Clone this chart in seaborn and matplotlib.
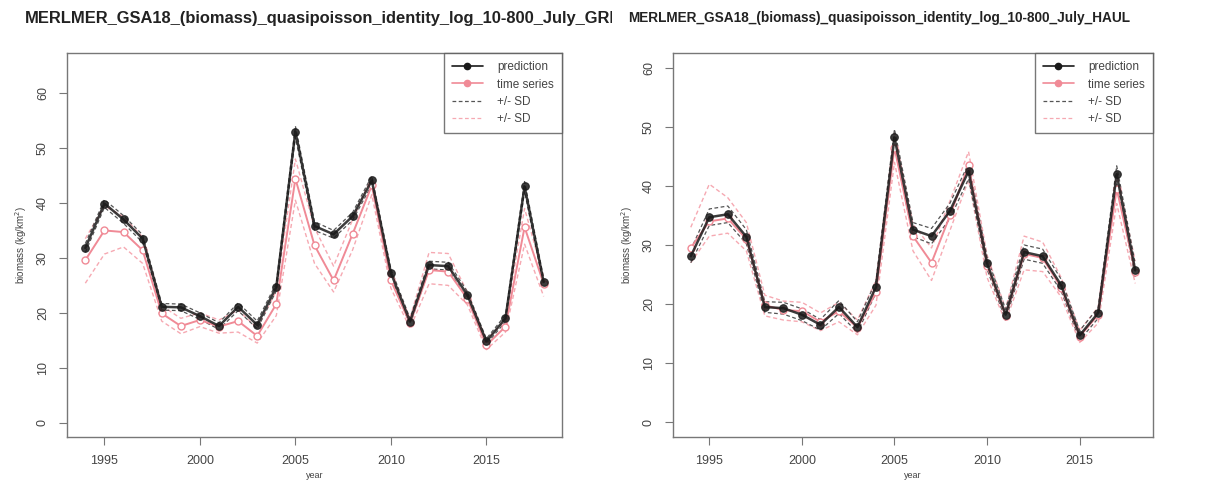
import numpy as np
import pandas as pd
import matplotlib
matplotlib.use("Agg")
import matplotlib.pyplot as plt
from matplotlib.lines import Line2D
from matplotlib.transforms import Bbox
import seaborn as sns

# =========================================================
# DATA
# =========================================================

years = list(range(1994, 2019))

# left panel : GRID
grid_pred = [31.8, 39.9, 37.0, 33.5, 21.1, 21.0, 19.4, 17.6, 21.1, 17.8, 24.7, 53.0, 35.8,
             34.3, 37.6, 44.1, 27.3, 18.4, 28.7, 28.5, 23.3, 14.8, 19.0, 43.0, 25.6]
grid_pred_lo = [31.0, 39.2, 36.3, 32.8, 20.5, 20.4, 18.8, 17.0, 20.4, 17.1, 24.0, 52.0, 35.0,
                33.6, 36.9, 43.3, 26.6, 17.8, 28.0, 27.8, 22.7, 14.3, 18.4, 42.1, 24.9]
grid_pred_hi = [32.6, 40.6, 37.7, 34.2, 21.7, 21.6, 20.0, 18.2, 21.8, 18.5, 25.4, 54.0, 36.6,
                35.0, 38.3, 44.9, 28.0, 19.0, 29.4, 29.2, 23.9, 15.3, 19.6, 43.9, 26.3]
grid_ts = [29.6, 35.0, 34.7, 31.4, 19.9, 17.6, 18.7, 17.5, 18.5, 15.8, 21.6, 44.4, 32.3,
           25.9, 34.4, 43.2, 25.9, 18.1, 27.8, 27.5, 22.6, 14.1, 17.5, 35.6, 25.3]
grid_ts_lo = [25.4, 30.7, 32.0, 29.0, 18.5, 16.2, 17.5, 16.3, 16.5, 14.5, 19.5, 40.5, 29.0,
              23.8, 31.5, 41.5, 24.5, 17.2, 25.3, 25.0, 21.5, 13.3, 16.5, 32.5, 23.0]
grid_ts_hi = [33.5, 39.5, 37.5, 33.8, 21.3, 19.0, 20.0, 18.7, 20.5, 17.2, 24.0, 48.0, 35.5,
              28.5, 37.0, 44.8, 27.3, 19.0, 31.0, 30.8, 23.8, 15.0, 18.7, 39.0, 26.5]

# right panel : HAUL
haul_pred = [28.1, 34.7, 35.2, 31.4, 19.5, 19.3, 18.2, 16.5, 19.5, 16.1, 22.9, 48.2, 32.6,
             31.5, 35.8, 42.5, 26.9, 18.2, 28.8, 28.1, 23.2, 14.7, 18.5, 42.0, 25.7]
haul_pred_lo = [27.0, 33.3, 33.8, 30.2, 18.6, 18.3, 17.2, 15.6, 18.4, 15.2, 21.9, 46.8, 31.4,
                30.2, 34.5, 41.2, 25.9, 17.3, 27.6, 26.9, 22.2, 13.9, 17.6, 40.6, 24.6]
haul_pred_hi = [29.2, 36.1, 36.6, 32.6, 20.4, 20.3, 19.2, 17.4, 20.6, 17.0, 23.9, 49.6, 33.8,
                32.8, 37.1, 43.8, 27.9, 19.1, 30.0, 29.3, 24.2, 15.5, 19.4, 43.4, 26.8]
haul_ts = [29.5, 34.0, 34.5, 31.0, 19.8, 19.0, 18.8, 17.0, 18.8, 16.0, 22.0, 46.5, 31.5,
           27.0, 35.0, 43.5, 26.5, 18.0, 28.5, 27.8, 22.8, 14.5, 18.2, 39.5, 25.5]
haul_ts_lo = [27.0, 31.5, 32.0, 29.0, 18.0, 17.3, 17.0, 15.5, 17.0, 14.8, 19.8, 44.0, 29.0,
              24.0, 32.5, 41.0, 24.5, 17.0, 25.8, 25.5, 21.2, 13.5, 16.8, 37.0, 23.5]
haul_ts_hi = [33.0, 40.3, 38.0, 33.8, 21.5, 20.5, 20.3, 18.5, 20.3, 17.3, 24.0, 49.0, 33.5,
              29.5, 37.5, 45.8, 28.3, 19.2, 31.5, 30.5, 24.5, 15.5, 19.5, 42.0, 27.3]

title_base = "MERLMER_GSA18_(biomass)_quasipoisson_identity_log_10-800_July_"
legend_labels = ["prediction", "time series", "+/- SD", "+/- SD"]
x_ticks = [1995, 2000, 2005, 2010, 2015]
y_ticks = [0, 10, 20, 30, 40, 50, 60]

# =========================================================
# STYLE
# =========================================================

sns.set_style("white")
plt.rcParams['font.family'] = ['Liberation Sans', 'DejaVu Sans']

BLACK = "#1a1a1a"
PINK = "#f08a96"
SD_BLACK = "#555555"
SD_PINK = "#f6a9b2"

fig = plt.figure(figsize=(12.24, 4.83), dpi=100)

panels = [
    dict(pos=[67 / 1224, 46 / 483, 495 / 1224, 384 / 483], ylim=(-2.6, 67.3),
         pred=grid_pred, plo=grid_pred_lo, phi=grid_pred_hi,
         ts=grid_ts, tlo=grid_ts_lo, thi=grid_ts_hi,
         title=title_base + "GRID", tx=25, tsize=11.9, clip=(0, 612)),
    dict(pos=[673 / 1224, 46 / 483, 480 / 1224, 384 / 483], ylim=(-2.5, 62.5),
         pred=haul_pred, plo=haul_pred_lo, phi=haul_pred_hi,
         ts=haul_ts, tlo=haul_ts_lo, thi=haul_ts_hi,
         title=title_base + "HAUL", tx=628, tsize=9.8, clip=(612, 1224)),
]

for p in panels:
    ax = fig.add_axes(p["pos"])
    df = pd.DataFrame({
        "year": years,
        "pred": p["pred"], "pred_lo": p["plo"], "pred_hi": p["phi"],
        "ts": p["ts"], "ts_lo": p["tlo"], "ts_hi": p["thi"],
    })

    # SD lines
    for col in ["ts_lo", "ts_hi"]:
        sns.lineplot(data=df, x="year", y=col, ax=ax, color=SD_PINK,
                     linestyle=(0, (3, 2)), linewidth=1.0, zorder=2)
    for col in ["pred_lo", "pred_hi"]:
        sns.lineplot(data=df, x="year", y=col, ax=ax, color=SD_BLACK,
                     linestyle=(0, (3, 2)), linewidth=0.9, zorder=3)

    # time series
    sns.lineplot(data=df, x="year", y="ts", ax=ax, color=PINK, linewidth=1.4,
                 marker="o", markersize=5.0, markerfacecolor="white",
                 markeredgecolor=PINK, markeredgewidth=1.0, zorder=4)

    # prediction
    sns.lineplot(data=df, x="year", y="pred", ax=ax, color=BLACK, linewidth=1.8,
                 alpha=0.85, marker="o", markersize=5.5, markerfacecolor=BLACK,
                 markeredgecolor=BLACK, zorder=5)

    ax.set_xlim(1993.04, 2018.96)
    ax.set_ylim(*p["ylim"])
    ax.set_xticks(x_ticks)
    ax.set_yticks(y_ticks)
    ax.tick_params(axis="both", direction="out", length=6, width=0.8,
                   color="#777777", labelsize=9, labelcolor="#444444",
                   bottom=True, left=True, pad=7)
    for lab in ax.get_yticklabels():
        lab.set_rotation(90)
        lab.set_va("center")
    for s in ax.spines.values():
        s.set_color("#777777")
        s.set_linewidth(1.0)

    ax.set_xlabel("year", fontsize=6.5, color="#444444", labelpad=3)
    ax.set_ylabel("biomass (kg/km$^2$)", fontsize=7, color="#444444", labelpad=6)

    handles = [
        Line2D([], [], color=BLACK, linewidth=1.2, marker="o", markersize=4.5),
        Line2D([], [], color=PINK, linewidth=1.2, marker="o", markersize=4.5),
        Line2D([], [], color=SD_BLACK, linewidth=0.9, linestyle=(0, (3, 2))),
        Line2D([], [], color=SD_PINK, linewidth=0.9, linestyle=(0, (3, 2))),
    ]
    leg = ax.legend(handles, legend_labels, loc="upper right", fontsize=8.5,
                    frameon=True, fancybox=False, borderaxespad=0,
                    handlelength=2.6, labelspacing=0.45, borderpad=0.7,
                    handletextpad=1.2)
    leg.get_frame().set_edgecolor("#555555")
    leg.get_frame().set_linewidth(1.0)
    for t in leg.get_texts():
        t.set_color("#444444")

    # title, clipped to its own half like the reference
    t = fig.text(p["tx"] / 1224, 1 - 18 / 483, p["title"], fontsize=p["tsize"],
                 fontweight="bold", color="#222222", ha="left", va="center")
    t.set_clip_box(Bbox.from_extents(p["clip"][0], 0, p["clip"][1], 483))
    t.set_clip_on(True)

fig.savefig("out.png", dpi=100)
